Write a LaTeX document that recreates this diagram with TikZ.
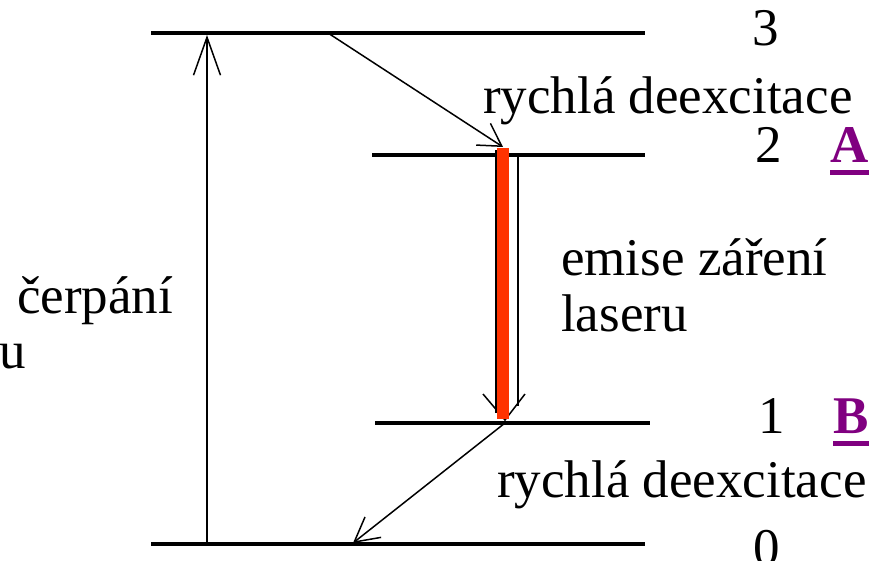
\documentclass[tikz,border=0pt]{standalone}
\usepackage{fontspec}
\setmainfont{Liberation Serif}
\usetikzlibrary{arrows.meta}
\definecolor{laserred}{RGB}{255,51,0}
\definecolor{levelmark}{RGB}{128,0,128}
\begin{document}
\begin{tikzpicture}[
  x=1pt, y=-1pt,
  line cap=butt,
  every node/.style={font=\fontsize{53}{60}\selectfont, inner sep=0pt, anchor=base west},
  level/.style={line width=3.2pt},
  trans/.style={line width=1.5pt},
  levelletter/.style={text=levelmark, font=\fontsize{53}{60}\selectfont\bfseries}
]
  \useasboundingbox (0,0) rectangle (873,560);

  % Hladiny
  \coordinate (L3a) at (151,33);  \coordinate (L3b) at (645,33);
  \coordinate (L2a) at (372,155); \coordinate (L2b) at (645,155);
  \coordinate (L1a) at (375,423); \coordinate (L1b) at (650,423);
  \coordinate (L0a) at (151,544); \coordinate (L0b) at (645,544);

  \draw[level] (L3a) -- (L3b);
  \draw[level] (L2a) -- (L2b);
  \draw[level] (L1a) -- (L1b);
  \draw[level] (L0a) -- (L0b);

  % Čerpání
  \coordinate (P0) at (207,544);
  \coordinate (P3) at (207,35);
  \draw[trans, -{Straight Barb[length=38pt,width=27pt,line width=1.5pt]}] (P0) -- (P3);

  % Rychlá deexcitace 3 -> 2
  \coordinate (D3) at (328,33);
  \coordinate (D2) at (503,147);
  \draw[trans, -{Straight Barb[length=22pt,width=26pt,line width=1.5pt]}] (D3) -- (D2);

  % Emise záření laseru
  \coordinate (E2l) at (496,150); \coordinate (E1l) at (496,413);
  \coordinate (E2r) at (518,155); \coordinate (E1r) at (518,406);
  \coordinate (Etip) at (505,420);
  \coordinate (Ebl) at (483,394); \coordinate (Ebr) at (525,394);
  \draw[trans] (E2l) -- (E1l);
  \draw[trans] (E2r) -- (E1r);
  \draw[trans] (Ebl) -- (Etip) -- (Ebr);
  \coordinate (R2) at (503,148);
  \coordinate (R1) at (503,419);
  \draw[laserred, line width=12pt] (R2) -- (R1);

  % Rychlá deexcitace 1 -> 0
  \coordinate (D1) at (505,423);
  \coordinate (D0) at (353,543);
  \draw[trans, -{Straight Barb[length=24pt,width=26pt,line width=1.5pt]}] (D1) -- (D0);

  % Popisky
  \node (n3) at (752,45) {3};
  \node (n2) at (755,162) {2};
  \node (n1) at (758,433) {1};
  \node (n0) at (753,565) {0};
  \node[levelletter] (mA) at (830,162) {A};
  \node[levelletter] (mB) at (833,433) {B};
  \draw[levelmark, line width=5pt] (mA.base west) ++(0,10) coordinate (uA) -- (uA -| mA.east);
  \draw[levelmark, line width=5pt] (mB.base west) ++(0,10) coordinate (uB) -- (uB -| mB.east);

  \node (deex1) at (483,113) {rychlá deexcitace};
  \node (deex2) at (497,497) {rychlá deexcitace};
  \node (emise) at (561,275) {emise záření};
  \node (laser) at (561,331) {laseru};
  \node (cerp) at (17,313) {čerpání};
  \node (cerpu) at (-1,368) {u};
\end{tikzpicture}
\end{document}
